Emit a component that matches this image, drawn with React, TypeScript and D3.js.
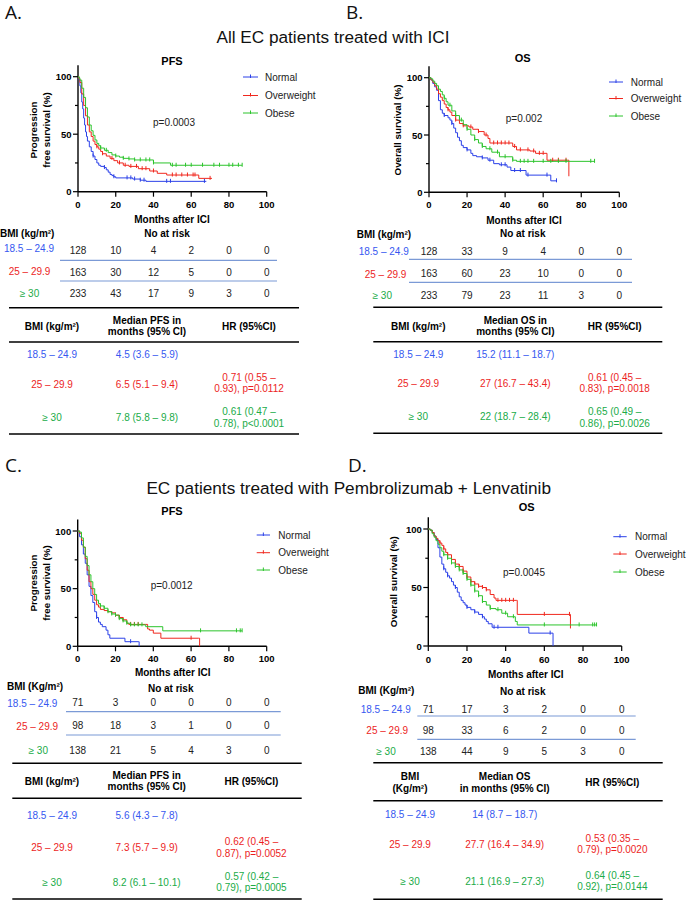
import React from 'react';
import * as d3 from 'd3';

type Pt = [number, number];

const FONT = '"Liberation Sans", Arial, Helvetica, sans-serif';
const MONTH_TICKS = [0, 20, 40, 60, 80, 100];
const Y_MAJOR = [0, 50, 100];
const Y_MINOR = [25, 75];
const BMI_GROUPS = ['18.5 – 24.9', '25 – 29.9', '≥ 30'];
const LEGEND_LABELS = ['Normal', 'Overweight', 'Obese'];
const CURVE_COLORS = ['#2b40e8', '#f0281e', '#2cc42c'];
const TEXT_COLORS = ['#3658f0', '#ec1e1e', '#20ab48'];
const SEP_COLOR = '#7b9ad6';

// ---------- Panel A: PFS, all EC patients ----------
const A_NORMAL: Pt[] = [[0,100],[0.5,97],[1,92],[1.5,86],[2,78],[2.5,72],[3,64],[3.5,58],[4,52],[4.5,48],[5,44],[6,39],[7,35],[8,31],[9,28],[10,25],[11,23],[12,22],[14,21],[15,19],[16,17],[17,15],[18,14],[19,13],[20,12],[28,12],[29,11],[33,10],[36,9],[68,9]];
const A_OVER: Pt[] = [[0,100],[0.5,98],[1,95],[2,85],[3,75],[4,66],[5,58],[6,52],[7,48],[8,44],[9,41],[10,39],[11,37],[12,35],[13,33],[15,31],[17,29],[19,27],[21,25],[24,23],[27,22],[32,20],[38,18],[42,16],[47,14.5],[64,11.6],[71,11.6]];
const A_OBESE: Pt[] = [[0,100],[0.5,99],[1,97],[2,90],[3,82],[4,73],[5,65],[6,58],[7,53],[8,49],[9,45],[10,42],[11,40],[12,38],[14,36],[16,34],[18,32],[20,31],[22,30],[24,29],[27,28.5],[30,27.6],[40,25],[49,23],[87,23]];
const A_NORMAL_CENSOR = [8, 14, 19, 26, 28, 30, 33, 35, 47, 49, 67];
const A_OVER_CENSOR = [10, 13, 18, 22, 25, 28, 31, 34, 36, 40, 50, 52, 55, 58, 61, 62, 70];
const A_OBESE_CENSOR = [12, 15, 20, 24, 27, 30, 33, 36, 38, 40, 50, 52, 57, 60, 66, 72, 75, 80, 82, 85, 87];
const A_RISK_NORMAL = [128, 10, 4, 2, 0, 0];
const A_RISK_OVER = [163, 30, 12, 5, 0, 0];
const A_RISK_OBESE = [233, 43, 17, 9, 3, 0];
const A_MEDIANS = ['4.5 (3.6 – 5.9)', '6.5 (5.1 – 9.4)', '7.8 (5.8 – 9.8)'];
const A_HR = [[], ['0.71 (0.55 –', '0.93), p=0.0112'], ['0.61 (0.47 –', '0.78), p<0.0001']];

// ---------- Panel B: OS, all EC patients ----------
const B_NORMAL: Pt[] = [[0,100],[1,98],[2,95],[3,92],[4,89],[5,80],[6,72],[7,69],[8,67],[10,65],[11,63],[12,60],[13,56],[14,52],[15,48],[16,45],[17,41],[18,39],[20,37],[22,34],[23,32],[25,31],[28,30],[31,28],[34,25],[37,24],[41,22],[43,19],[51,15],[63,15],[64,10],[67,10]];
const B_OVER: Pt[] = [[0,100],[1,98],[2,96],[3,93],[4,90],[5,86],[6,83],[7,80],[8,77],[9,74],[10,72],[11,70],[12,67],[14,63],[16,60],[18,58],[21,57],[23,55],[26,53],[29,50],[31,47],[32,43],[44,40],[46,37],[53,36],[56,34],[62,28],[73,28],[73.5,14]];
const B_OBESE: Pt[] = [[0,100],[1,99],[2,97],[3,95],[4,93],[5,90],[6,88],[7,85],[8,82],[9,79],[10,76],[12,71],[14,67],[16,63],[18,59],[20,55],[22,50],[24,46],[26,43],[28,40],[30,38],[33,35],[37,31],[44,28],[46,27],[87,27]];
const B_NORMAL_CENSOR = [8, 12, 20, 28, 32, 38, 40, 45, 48, 52, 62, 67];
const B_OVER_CENSOR = [10, 14, 18, 22, 26, 30, 34, 36, 38, 40, 42, 45, 48, 52, 55, 58, 60, 65, 68, 72];
const B_OBESE_CENSOR = [8, 11, 14, 17, 20, 24, 28, 32, 36, 40, 44, 48, 50, 52, 55, 60, 64, 68, 72, 85, 87];
const B_RISK_NORMAL = [128, 33, 9, 4, 0, 0];
const B_RISK_OVER = [163, 60, 23, 10, 0, 0];
const B_RISK_OBESE = [233, 79, 23, 11, 3, 0];
const B_MEDIANS = ['15.2 (11.1 – 18.7)', '27 (16.7 – 43.4)', '22 (18.7 – 28.4)'];
const B_HR = [[], ['0.61 (0.45 –', '0.83),  p=0.0018'], ['0.65 (0.49 –', '0.86), p=0.0026']];

// ---------- Panel C: PFS, Pembrolizumab + Lenvatinib ----------
const C_NORMAL: Pt[] = [[0,100],[1,95],[2,88],[3,80],[4,72],[5,62],[6,52],[7,44],[8,38],[9,30],[10,25],[11,21],[12,19],[13,17],[15,14],[16,10],[17,7],[24,7],[25,4],[32,4],[32.5,0]];
const C_OVER: Pt[] = [[0,100],[1,98],[2,92],[3,86],[4,76],[5,66],[6,56],[7,50],[8,45],[9,40],[10,36],[11,34],[12,32],[14,31],[16,30],[18,29],[20,27],[22,25],[24,23],[26,20],[27,19],[36,19],[37,15],[38,14],[40,11.4],[44,7],[64,7],[64.5,0]];
const C_OBESE: Pt[] = [[0,100],[1,99],[2,94],[3,86],[4,78],[5,70],[6,62],[7,56],[8,50],[9,45],[10,40],[11,37],[12,35],[14,33],[16,30],[18,28],[20,27],[22,24],[24,22],[26,20],[28,18.6],[36,17],[45,13.4],[87,13.4]];
const C_NORMAL_CENSOR = [10, 28];
const C_OVER_CENSOR = [20, 22, 24, 28, 30, 32, 60];
const C_OBESE_CENSOR = [12, 14, 16, 18, 20, 22, 24, 26, 28, 30, 32, 34, 65, 84, 86, 87];
const C_RISK_NORMAL = [71, 3, 0, 0, 0, 0];
const C_RISK_OVER = [98, 18, 3, 1, 0, 0];
const C_RISK_OBESE = [138, 21, 5, 4, 3, 0];
const C_MEDIANS = ['5.6 (4.3 – 7.8)', '7.3 (5.7 – 9.9)', '8.2 (6.1 – 10.1)'];
const C_HR = [[], ['0.62 (0.45 –', '0.87), p=0.0052'], ['0.57 (0.42 –', '0.79), p=0.0005']];

// ---------- Panel D: OS, Pembrolizumab + Lenvatinib ----------
const D_NORMAL: Pt[] = [[0,100],[1,99],[2,97],[3,94],[4,91],[5,84],[6,76],[7,70],[8,66],[9,63],[10,60],[11,58],[12,55],[13,52],[14,50],[15,46],[16,42],[17,39],[18,37],[19,35],[20,33],[22,31],[24,29],[26,27],[28,25],[29,23],[30,21],[31,19],[33,16],[51,16],[52,11],[64,11],[64.5,0]];
const D_OVER: Pt[] = [[0,100],[1,99],[2,97],[3,94],[4,92],[5,90],[6,88],[7,86],[8,83],[9,80],[10,78],[12,74],[14,70],[16,68],[18,64],[20,59],[22,55],[24,53],[26,51],[28,50],[30,48],[32,44],[34,41],[35,39],[45.5,39],[46,27],[73,27],[73.5,15]];
const D_OBESE: Pt[] = [[0,100],[1,99],[2,96],[3,93],[4,90],[5,87],[6,84],[7,81],[8,78],[10,75],[12,71],[14,68],[16,65],[18,62],[20,57],[22,52],[24,47],[26,43],[28,38],[30,35],[32,32],[35,31],[38,28],[41,25],[45,21],[46,18],[87,18]];
const D_NORMAL_CENSOR = [8, 10, 14, 20, 24, 28, 34, 36, 63];
const D_OVER_CENSOR = [6, 8, 10, 12, 14, 16, 18, 20, 22, 24, 26, 28, 30, 36, 38, 40, 42, 44, 60, 73];
const D_OBESE_CENSOR = [8, 10, 12, 14, 16, 18, 20, 22, 24, 26, 28, 32, 36, 40, 44, 60, 78, 85, 86, 87];
const D_RISK_NORMAL = [71, 17, 3, 2, 0, 0];
const D_RISK_OVER = [98, 33, 6, 2, 0, 0];
const D_RISK_OBESE = [138, 44, 9, 5, 3, 0];
const D_MEDIANS = ['14 (8.7 – 18.7)', '27.7 (16.4 – 34.9)', '21.1 (16.9 – 27.3)'];
const D_HR = [[], ['0.53 (0.35 –', '0.79), p=0.0020'], ['0.64 (0.45 –', '0.92), p=0.0144']];

function stepAt(data: Pt[], t: number) {
  let v = data[0][1];
  for (const [m, s] of data) {
    if (m <= t) v = s;
    else break;
  }
  return v;
}

// layout (positions only)
const LAYOUT_A = {
  letter: 'A.', letterX: 5, letterY: 18.5,
  title: 'PFS', titleX: 172, titleY: 60.5,
  x0: 78, x1: 266.7, y100: 76.7, y0: 191.7,
  yLabel: ['Progression', 'free survival (%)'], yLabelX: [37, 50], yLabelY: 130,
  legendX1: 243, legendX2: 258, legendTextX: 265, legendY: [77, 95.5, 113],
  pText: 'p=0.0003', pX: 174, pY: 122,
  tickLabelY: 204.5, monthsX: 172, monthsY: 219.3,
  riskBmi: 'BMI (kg/m²)', riskBmiX: 0, riskBmiY: 233, noRiskX: 167, noRiskY: 233.5,
  rowLabelX: [29, 29.5, 29.5], rowLabelY: [248, 271.3, 293], numY: [250.3, 272, 293.7],
  blueX1: 60, blueX2: 277, blueY: [260.3, 281],
  tableX1: 9, tableX2: 299, tableLineY: [307.7, 342, 434],
  colX: [52, 147, 249],
  headBmi: ['BMI (kg/m²)'], headBmiY: [326],
  headMed: ['Median PFS  in', 'months (95% CI)'], headMedY: [320, 331],
  headHrY: 326,
  rowY: [354.3, 384, 417.7], hrY: [[0, 0], [377.3, 388.3], [411.7, 423.3]],
};
const LAYOUT_B = {
  letter: 'B.', letterX: 346, letterY: 18.5,
  title: 'OS', titleX: 522.7, titleY: 57.5,
  x0: 429, x1: 619.3, y100: 77.7, y0: 192.3,
  yLabel: ['Overall survival (%)'], yLabelX: [401], yLabelY: 130,
  legendX1: 609, legendX2: 623, legendTextX: 630.7, legendY: [82, 98.5, 116],
  pText: 'p=0.002', pX: 524, pY: 118,
  tickLabelY: 204.7, monthsX: 524, monthsY: 220,
  riskBmi: 'BMI (kg/m²)', riskBmiX: 356.7, riskBmiY: 234, noRiskX: 522.7, noRiskY: 233.5,
  rowLabelX: [383.7, 385.5, 382.3], rowLabelY: [251.7, 274.3, 295], numY: [251, 273.7, 295.7],
  blueX1: 409, blueX2: 632, blueY: [259.3, 282.3],
  tableX1: 373.3, tableX2: 662.3, tableLineY: [307.3, 341.7, 433.3],
  colX: [418.3, 515.3, 614.7],
  headBmi: ['BMI  (kg/m²)'], headBmiY: [326],
  headMed: ['Median OS  in', 'months (95% CI)'], headMedY: [320, 331],
  headHrY: 326,
  rowY: [354.7, 383, 416.7], hrY: [[0, 0], [377.7, 388.3], [411.7, 423.3]],
};
const LAYOUT_C = {
  letter: 'C.', letterX: 5, letterY: 472,
  title: 'PFS', titleX: 172, titleY: 510.7,
  x0: 77.7, x1: 266.7, y100: 531, y0: 646.3,
  yLabel: ['Progression', 'free survival (%)'], yLabelX: [37, 50], yLabelY: 583,
  legendX1: 256.7, legendX2: 270, legendTextX: 278.3, legendY: [535, 552.7, 570],
  pText: 'p=0.0012', pX: 171.7, pY: 585.7,
  tickLabelY: 658.3, monthsX: 172.7, monthsY: 672.3,
  riskBmi: 'BMI (Kg/m²)', riskBmiX: 7, riskBmiY: 686.7, noRiskX: 170.7, noRiskY: 688.3,
  rowLabelX: [32.3, 37.2, 38.3], rowLabelY: [703.3, 726, 750], numY: [702.7, 725.7, 750],
  blueX1: 66, blueX2: 280.7, blueY: [711.7, 735],
  tableX1: 12.3, tableX2: 301.7, tableLineY: [763.3, 798.3, 899],
  colX: [52, 146.7, 251.5],
  headBmi: ['BMI (kg/m²)'], headBmiY: [781],
  headMed: ['Median PFS  in', 'months (95% CI)'], headMedY: [775, 786.7],
  headHrY: 781,
  rowY: [815, 847.3, 882.3], hrY: [[0, 0], [841.7, 853.3], [876.7, 887.7]],
};
const LAYOUT_D = {
  letter: 'D.', letterX: 348, letterY: 472.3,
  title: 'OS', titleX: 526.7, titleY: 506.7,
  x0: 428.3, x1: 621.7, y100: 529, y0: 646,
  yLabel: ['Overall survival (%)'], yLabelX: [397], yLabelY: 581.7,
  legendX1: 613.3, legendX2: 626.7, legendTextX: 635, legendY: [536.7, 554, 572],
  pText: 'p=0.0045', pX: 524, pY: 572.3,
  tickLabelY: 659.3, monthsX: 525.7, monthsY: 674,
  riskBmi: 'BMI (Kg/m²)', riskBmiX: 358.3, riskBmiY: 690.7, noRiskX: 522.7, noRiskY: 691,
  rowLabelX: [385.7, 387.2, 386], rowLabelY: [709, 730.7, 751.7], numY: [709, 730.3, 751],
  blueX1: 417.3, blueX2: 635.7, blueY: [716, 739.3],
  tableX1: 373.3, tableX2: 662.7, tableLineY: [762.7, 800.7, 899.3],
  colX: [410, 504.7, 612.3],
  headBmi: ['BMI', '(Kg/m²)'], headBmiY: [776.7, 788.3],
  headMed: ['Median OS', 'in months (95% CI)'], headMedY: [776.7, 788.3],
  headHrY: 782.3,
  rowY: [814, 844, 881.7], hrY: [[0, 0], [838.3, 849.3], [875.7, 886.7]],
};

type Layout = typeof LAYOUT_A;

function T(props: any) {
  const { children, ...rest } = props;
  return (
    <text fontFamily={FONT} dominantBaseline="central" {...rest}>
      {children}
    </text>
  );
}

function Panel({ L, curves, censors, risk, medians, hrs }: { L: Layout; curves: Pt[][]; censors: number[][]; risk: number[][]; medians: string[]; hrs: string[][] }) {
  const x = d3.scaleLinear().domain([0, 100]).range([L.x0, L.x1]);
  const y = d3.scaleLinear().domain([0, 100]).range([L.y0, L.y100]);
  const line = d3.line<Pt>().x((d) => x(d[0])).y((d) => y(d[1])).curve(d3.curveStepAfter);
  return (
    <g>
      <text x={L.letterX} y={L.letterY} fontFamily='"Open Sans", "Noto Sans", sans-serif' fontSize={19} fill="#111">{L.letter}</text>
      <T x={L.titleX} y={L.titleY} textAnchor="middle" fontWeight="bold" fontSize={11}>{L.title}</T>
      {/* y label */}
      {L.yLabel.map((s, i) => (
        <text key={i} transform={`translate(${L.yLabelX[i]},${L.yLabelY}) rotate(-90)`} textAnchor="middle" fontFamily={FONT} fontWeight="bold" fontSize={9.8}>{s}</text>
      ))}
      {/* axes */}
      <line x1={L.x0} x2={L.x0} y1={y(110)} y2={L.y0} stroke="#000" strokeWidth={1.4} />
      <line x1={L.x0} x2={L.x1} y1={L.y0} y2={L.y0} stroke="#000" strokeWidth={1.4} />
      {Y_MAJOR.map((v) => (
        <g key={v}>
          <line x1={L.x0 - 5} x2={L.x0} y1={y(v)} y2={y(v)} stroke="#000" strokeWidth={1.2} />
          <T x={L.x0 - 6.5} y={y(v)} textAnchor="end" fontWeight="bold" fontSize={9.5}>{v}</T>
        </g>
      ))}
      {Y_MINOR.map((v) => (
        <line key={v} x1={L.x0 - 3} x2={L.x0} y1={y(v)} y2={y(v)} stroke="#000" strokeWidth={1.2} />
      ))}
      {MONTH_TICKS.map((v) => (
        <g key={v}>
          <line x1={x(v)} x2={x(v)} y1={L.y0} y2={L.y0 + 5} stroke="#000" strokeWidth={1.2} />
          <T x={x(v)} y={L.tickLabelY} textAnchor="middle" fontWeight="bold" fontSize={9.5}>{v}</T>
        </g>
      ))}
      <T x={L.monthsX} y={L.monthsY} textAnchor="middle" fontWeight="bold" fontSize={10}>Months after ICI</T>
      {/* curves */}
      {curves.map((c, i) => (
        <g key={i}>
          <path d={line(c) || ''} fill="none" stroke={CURVE_COLORS[i]} strokeWidth={1} />
          {censors[i].map((t, j) => (
            <line key={j} x1={x(t)} x2={x(t)} y1={y(stepAt(c, t)) - 2.5} y2={y(stepAt(c, t)) + 1.5} stroke={CURVE_COLORS[i]} strokeWidth={1} />
          ))}
        </g>
      ))}
      {/* legend */}
      {LEGEND_LABELS.map((s, i) => (
        <g key={s}>
          <line x1={L.legendX1} x2={L.legendX2} y1={L.legendY[i]} y2={L.legendY[i]} stroke={CURVE_COLORS[i]} strokeWidth={1} />
          <line x1={(L.legendX1 + L.legendX2) / 2} x2={(L.legendX1 + L.legendX2) / 2} y1={L.legendY[i] - 2.5} y2={L.legendY[i] + 1} stroke={CURVE_COLORS[i]} strokeWidth={1} />
          <T x={L.legendTextX} y={L.legendY[i]} fontSize={10} fill="#222">{s}</T>
        </g>
      ))}
      <T x={L.pX} y={L.pY} textAnchor="middle" fontSize={10} fill="#222">{L.pText}</T>
      {/* at risk */}
      <T x={L.riskBmiX} y={L.riskBmiY} fontWeight="bold" fontSize={10}>{L.riskBmi}</T>
      <T x={L.noRiskX} y={L.noRiskY} textAnchor="middle" fontWeight="bold" fontSize={10}>No at risk</T>
      {BMI_GROUPS.map((g, i) => (
        <g key={g}>
          <T x={L.rowLabelX[i]} y={L.rowLabelY[i]} textAnchor="middle" fontSize={10} fill={TEXT_COLORS[i]}>{g}</T>
          {risk[i].map((n, j) => (
            <T key={j} x={x(MONTH_TICKS[j])} y={L.numY[i]} textAnchor="middle" fontSize={10} fill="#222">{n}</T>
          ))}
        </g>
      ))}
      {L.blueY.map((yy, i) => (
        <line key={i} x1={L.blueX1} x2={L.blueX2} y1={yy} y2={yy} stroke={SEP_COLOR} strokeWidth={1.2} />
      ))}
      {/* median table */}
      {L.tableLineY.map((yy, i) => (
        <line key={i} x1={L.tableX1} x2={L.tableX2} y1={yy} y2={yy} stroke="#000" strokeWidth={1.5} />
      ))}
      {L.headBmi.map((s, i) => (
        <T key={i} x={L.colX[0]} y={L.headBmiY[i]} textAnchor="middle" fontWeight="bold" fontSize={10}>{s}</T>
      ))}
      {L.headMed.map((s, i) => (
        <T key={i} x={L.colX[1]} y={L.headMedY[i]} textAnchor="middle" fontWeight="bold" fontSize={10}>{s}</T>
      ))}
      <T x={L.colX[2]} y={L.headHrY} textAnchor="middle" fontWeight="bold" fontSize={10}>HR (95%CI)</T>
      {BMI_GROUPS.map((g, i) => (
        <g key={g}>
          <T x={L.colX[0]} y={L.rowY[i]} textAnchor="middle" fontSize={10} fill={TEXT_COLORS[i]}>{g}</T>
          <T x={L.colX[1]} y={L.rowY[i]} textAnchor="middle" fontSize={10} fill={TEXT_COLORS[i]}>{medians[i]}</T>
          {hrs[i].map((s, k) => (
            <T key={k} x={L.colX[2]} y={L.hrY[i][k]} textAnchor="middle" fontSize={10} fill={TEXT_COLORS[i]}>{s}</T>
          ))}
        </g>
      ))}
    </g>
  );
}

export default function App() {
  return (
    <svg width={687} height={900} style={{ position: 'absolute', left: 0, top: 0, background: '#fff' }}>
      <rect width={687} height={900} fill="#fff" />
      <text x={333} y={42.5} textAnchor="middle" fontFamily={FONT} fontSize={17.2} fill="#111">All EC patients treated with ICI</text>
      <text x={348.7} y={493.5} textAnchor="middle" fontFamily={FONT} fontSize={17.2} fill="#111">EC patients treated with Pembrolizumab + Lenvatinib</text>
      <Panel L={LAYOUT_A} curves={[A_NORMAL, A_OVER, A_OBESE]} censors={[A_NORMAL_CENSOR, A_OVER_CENSOR, A_OBESE_CENSOR]} risk={[A_RISK_NORMAL, A_RISK_OVER, A_RISK_OBESE]} medians={A_MEDIANS} hrs={A_HR} />
      <Panel L={LAYOUT_B} curves={[B_NORMAL, B_OVER, B_OBESE]} censors={[B_NORMAL_CENSOR, B_OVER_CENSOR, B_OBESE_CENSOR]} risk={[B_RISK_NORMAL, B_RISK_OVER, B_RISK_OBESE]} medians={B_MEDIANS} hrs={B_HR} />
      <Panel L={LAYOUT_C} curves={[C_NORMAL, C_OVER, C_OBESE]} censors={[C_NORMAL_CENSOR, C_OVER_CENSOR, C_OBESE_CENSOR]} risk={[C_RISK_NORMAL, C_RISK_OVER, C_RISK_OBESE]} medians={C_MEDIANS} hrs={C_HR} />
      <Panel L={LAYOUT_D} curves={[D_NORMAL, D_OVER, D_OBESE]} censors={[D_NORMAL_CENSOR, D_OVER_CENSOR, D_OBESE_CENSOR]} risk={[D_RISK_NORMAL, D_RISK_OVER, D_RISK_OBESE]} medians={D_MEDIANS} hrs={D_HR} />
    </svg>
  );
}
